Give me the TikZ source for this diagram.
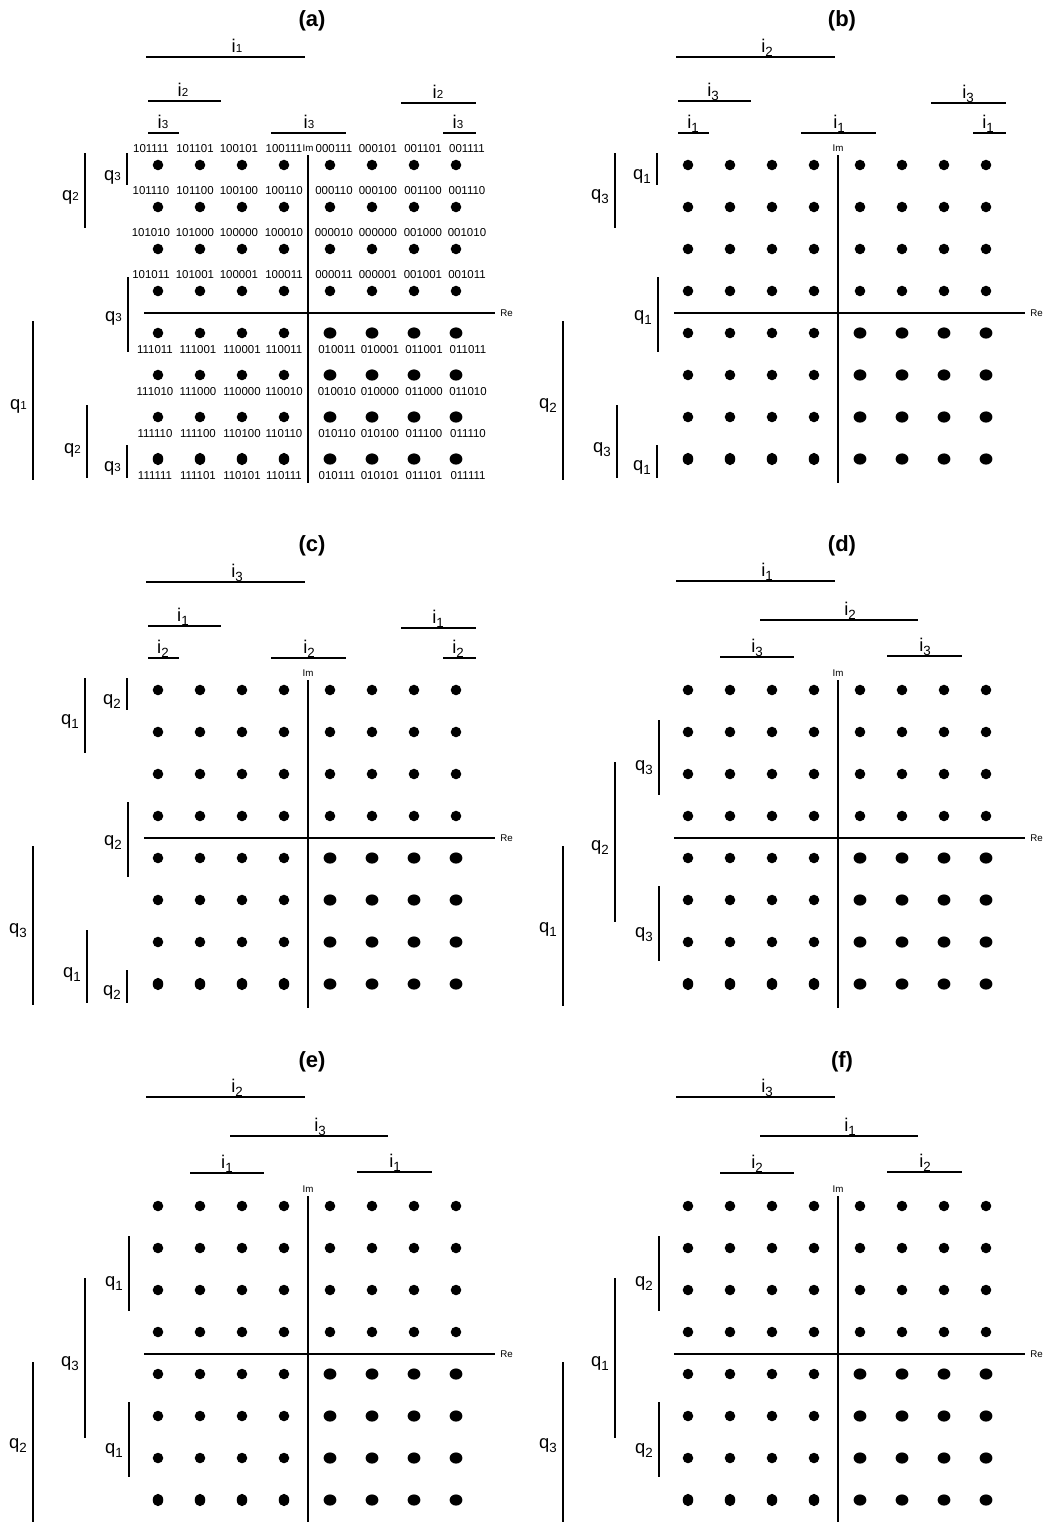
\documentclass[tikz,border=0pt]{standalone}
\usepackage{fontspec}
\setmainfont{Liberation Sans}
\usetikzlibrary{shapes.geometric}
\def\subdrop{-0.22em}
\def\subsize{10}
\newcommand\subdig[1]{\raisebox{\subdrop}{\fontsize{\subsize}{\subsize}\selectfont #1}}
\tikzset{
  bar/.style={line width=1.4pt},
  axisln/.style={line width=1.4pt},
  dotc/.style={circle,fill=black,inner sep=0pt,minimum size=7.9pt},
  dotw/.style={ellipse,fill=black,inner sep=0pt,minimum width=9.6pt,minimum height=8.4pt},
  dott/.style={ellipse,fill=black,inner sep=0pt,minimum width=7.9pt,minimum height=9.3pt},
  lbl/.style={font=\fontsize{13.8}{14}\selectfont,inner sep=0pt},
  ttl/.style={font=\fontsize{16.5}{17}\selectfont\bfseries,inner sep=0pt},
  num/.style={font=\fontsize{8.6}{9}\selectfont,inner sep=0pt},
  ax/.style={font=\fontsize{7.3}{8}\selectfont,inner sep=0pt},
}
% horizontal bar: prefix, x1, x2, y, label x, text
\newcommand\hbr[6]{%
  \coordinate (#1-l) at (#2,#4);
  \coordinate (#1-r) at (#3,#4);
  \draw[bar] (#1-l) -- (#1-r);
  \node[lbl,anchor=base] (#1-t) at (#5,#4-5) {#6};}
% vertical bar: prefix, x, y1, y2, label y, text
\newcommand\vbr[6]{%
  \coordinate (#1-t) at (#2,#3);
  \coordinate (#1-b) at (#2,#4);
  \draw[bar] (#1-t) -- (#1-b);
  \node[lbl,anchor=east] (#1-q) at (#2-6,#5) {#6};}
% dots, axes and title
\newcommand\panelcore[1]{%
  \foreach \r in {1,...,8}{%
    \foreach \c in {1,...,8}{%
      \pgfmathsetmacro\xx{\c<5 ? 158+42*(\c-1) : 330+42*(\c-5)}%
      \pgfmathsetmacro\yy{165+42*(\r-1)}%
      \def\sty{dotc}%
      \ifnum\r>4 \ifnum\c>4 \def\sty{dotw}\fi\fi
      \ifnum\r=8 \ifnum\c<5 \def\sty{dott}\fi\fi
      \node[\sty] (#1-d\r\c) at (\xx,\yy) {};
    }%
  }%
  \node[ax] (#1-im) at (308,148) {Im};
  \coordinate (#1-imt) at (308,155);
  \coordinate (#1-imb) at (308,483);
  \draw[axisln] (#1-imt) -- (#1-imb);
  \node[ax,anchor=west] (#1-re) at (500,313) {Re};
  \coordinate (#1-rel) at (144,313);
  \coordinate (#1-rer) at (495,313);
  \draw[axisln] (#1-rel) -- (#1-rer);
  \node[ttl] (#1-title) at (312,21) {(#1)};
}
% layout A: name, dx, dy, qL1, qL2, qL3, iT1, iT2, iT3
\newcommand\panelA[9]{%
  \begin{scope}[shift={(#2,#3)}]
    \panelcore{#1}
    \hbr{#1-t1}{146}{305}{57}{237}{i\subdig{#7}}
    \hbr{#1-t2l}{148}{221}{101}{183}{i\subdig{#8}}
    \hbr{#1-t2r}{401}{476}{103}{438}{i\subdig{#8}}
    \hbr{#1-t3l}{148}{179}{133}{163}{i\subdig{#9}}
    \hbr{#1-t3m}{271}{346}{133}{309}{i\subdig{#9}}
    \hbr{#1-t3r}{443}{476}{133}{458}{i\subdig{#9}}
    \vbr{#1-l1}{33}{321}{480}{406}{q\subdig{#4}}
    \vbr{#1-l2u}{85}{153}{228}{197}{q\subdig{#5}}
    \vbr{#1-l2l}{87}{405}{478}{450}{q\subdig{#5}}
    \vbr{#1-l3t}{127}{153}{185}{177}{q\subdig{#6}}
    \vbr{#1-l3m}{128}{277}{352}{318}{q\subdig{#6}}
    \vbr{#1-l3b}{127}{445}{478}{468}{q\subdig{#6}}
  \end{scope}}
% layout B
\newcommand\panelB[9]{%
  \begin{scope}[shift={(#2,#3)}]
    \panelcore{#1}
    \hbr{#1-t1}{146}{305}{56}{237}{i\subdig{#7}}
    \hbr{#1-t2}{230}{388}{95}{320}{i\subdig{#8}}
    \hbr{#1-t3l}{190}{264}{132}{227}{i\subdig{#9}}
    \hbr{#1-t3r}{357}{432}{131}{395}{i\subdig{#9}}
    \vbr{#1-l1}{33}{321}{481}{405}{q\subdig{#4}}
    \vbr{#1-l2}{85}{237}{397}{323}{q\subdig{#5}}
    \vbr{#1-l3u}{129}{195}{270}{243}{q\subdig{#6}}
    \vbr{#1-l3l}{129}{361}{436}{410}{q\subdig{#6}}
  \end{scope}}
\begin{document}
\begin{tikzpicture}[x=0.75pt,y=-0.75pt]
  \useasboundingbox (0,0) rectangle (1050,1522);
  \begingroup
    \def\subdrop{-0.02em}\def\subsize{8.7}
    \panelA{a}{0}{0}{1}{2}{3}{1}{2}{3}
  \endgroup
  % bit labels of panel (a)
  \foreach \lab [count=\k from 0] in {
    101111,101101,100101,100111,000111,000101,001101,001111,
    101110,101100,100100,100110,000110,000100,001100,001110,
    101010,101000,100000,100010,000010,000000,001000,001010,
    101011,101001,100001,100011,000011,000001,001001,001011,
    111011,111001,110001,110011,010011,010001,011001,011011,
    111010,111000,110000,110010,010010,010000,011000,011010,
    111110,111100,110100,110110,010110,010100,011100,011110,
    111111,111101,110101,110111,010111,010101,011101,011111}{%
    \pgfmathtruncatemacro\rr{int(\k/8)}%
    \pgfmathtruncatemacro\cc{mod(\k,8)}%
    \ifnum\rr<4
      \pgfmathsetmacro\lx{{151,195,239,284,334,378,423,467}[\cc]}%
      \pgfmathsetmacro\ly{165+42*\rr-16}%
    \else
      \pgfmathsetmacro\lx{{155,198,242,284,337,380,424,468}[\cc]}%
      \pgfmathsetmacro\ly{165+42*\rr+17}%
    \fi
    \node[num] (a-n\k) at (\lx,\ly) {\lab};
  }
  \panelA{b}{530}{0}{2}{3}{1}{2}{3}{1}
  \panelA{c}{0}{525}{3}{1}{2}{3}{1}{2}
  \panelB{d}{530}{525}{1}{2}{3}{1}{2}{3}
  \panelB{e}{0}{1041}{2}{3}{1}{2}{3}{1}
  \panelB{f}{530}{1041}{3}{1}{2}{3}{1}{2}
\end{tikzpicture}
\end{document}
